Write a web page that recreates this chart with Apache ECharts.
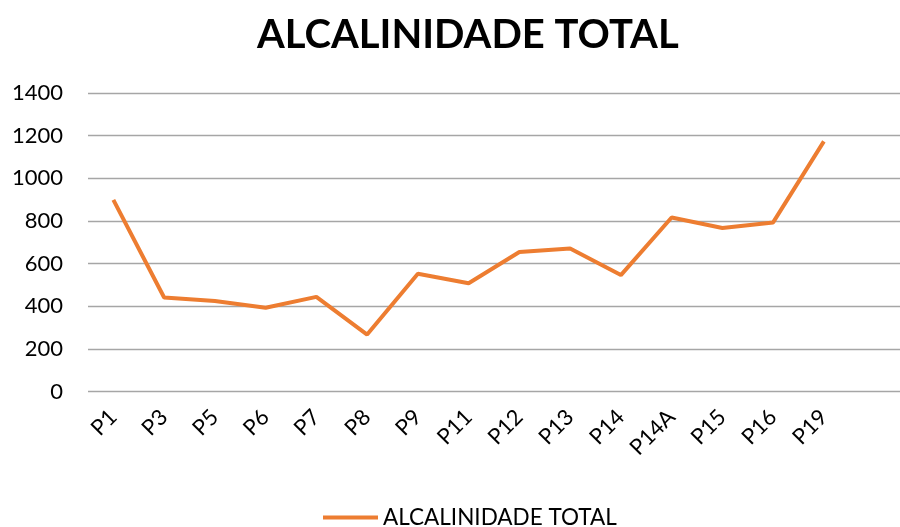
<!DOCTYPE html>
<html>
<head>
<meta charset="utf-8">
<script src="https://cdn.jsdelivr.net/npm/echarts@6/dist/echarts.min.js"></script>
<style>
    html, body { margin: 0; padding: 0; background: #fff; }
    #chart { width: 900px; height: 527px; }
</style>
</head>
<body>
<div id="chart"></div>
<script>
// pontos de coleta (o último fica vazio, como no gráfico original)
var categories = ['P1', 'P3', 'P5', 'P6', 'P7', 'P8', 'P9', 'P11', 'P12', 'P13', 'P14', 'P14A', 'P15', 'P16', 'P19', '']
var alcalinidade = [899, 441, 424, 393, 444, 267, 552, 508, 654, 671, 546, 816, 767, 793, 1173]
var yTicks = [0, 200, 400, 600, 800, 1000, 1200, 1400]

var chart = echarts.init(document.getElementById('chart'))
var option = {
    animation: false,
    textStyle: { fontFamily: 'Lato' },
    title: {
        text: 'ALCALINIDADE TOTAL',
        left: 252,
        top: 10,
        textStyle: { fontSize: 40, fontWeight: 'bold', color: '#000', fontFamily: 'Lato' },
    },
    legend: {
        bottom: -7,
        left: 318,
        itemWidth: 55,
        itemHeight: 4,
        itemGap: 6,
        icon: 'rect',
        textStyle: { fontSize: 22.5, color: '#000' },
        data: ['ALCALINIDADE TOTAL'],
    },
    grid: {
        left: 88,
        top: 93,
        width: 823,
        height: 298.5,
        containLabel: false,
    },
    xAxis: {
        type: 'category',
        data: categories,
        boundaryGap: true,
        axisLine: { show: false },
        axisTick: { show: false },
        axisLabel: {
            rotate: 45,
            margin: 22,
            fontSize: 22,
            color: '#000',
            interval: 0,
        },
    },
    yAxis: {
        type: 'value',
        min: yTicks[0],
        max: yTicks[yTicks.length - 1],
        interval: 200,
        axisLine: { show: false },
        axisTick: { show: false },
        axisLabel: {
            fontSize: 22,
            color: '#000',
            margin: 25,
            formatter: function(v) {
                return String(v)
            },
        },
        splitLine: { lineStyle: { color: '#a6a6a6', width: 1.3 } },
    },
    series: [
        {
            name: 'ALCALINIDADE TOTAL',
            type: 'line',
            data: alcalinidade,
            symbol: 'none',
            lineStyle: { color: '#ED7D31', width: 4 },
            itemStyle: { color: '#ED7D31' },
        },
    ],
}
option && chart.setOption(option)
</script>
</body>
</html>
